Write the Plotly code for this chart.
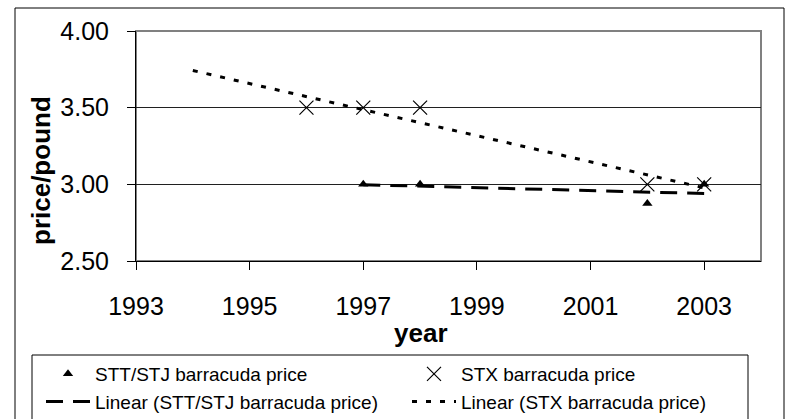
import numpy as np
import plotly.graph_objects as go

# ---- data ----
stt_years = [1997, 1998, 2002, 2003]
stt_price = [3.00, 3.00, 2.875, 3.00]
stx_years = [1996, 1997, 1998, 2002, 2003]
stx_price = [3.50, 3.50, 3.50, 3.00, 3.00]
stx_trend_start = 1994          # trendline backward forecast start
x_ticks = [1993, 1995, 1997, 1999, 2001, 2003]
y_ticks = [2.50, 3.00, 3.50, 4.00]

# ---- linear trendlines (least squares) ----
def trend(xs, ys, x0, x1):
    m, b = np.polyfit(xs, ys, 1)
    tx = [x0, x1]
    return tx, [m * t + b for t in tx]

stt_tx, stt_ty = trend(stt_years, stt_price, min(stt_years), max(stt_years))
stx_tx, stx_ty = trend(stx_years, stx_price, stx_trend_start, max(stx_years))

W, H = 791, 419
L, R, T, B = 136, 761, 31, 261
def px(x):  # pixel -> paper
    return (x - L) / (R - L)
def py(y):
    return (B - y) / (B - T)

FONT = "Liberation Sans, Arial, sans-serif"

fig = go.Figure()
fig.add_trace(go.Scatter(x=stt_years, y=stt_price, mode="markers",
                         name="STT/STJ barracuda price",
                         marker=dict(symbol="triangle-up", size=9, color="black")))
fig.add_trace(go.Scatter(x=stx_years, y=stx_price, mode="markers",
                         name="STX barracuda price",
                         marker=dict(symbol="x-thin-open", size=14, color="black",
                                     line=dict(color="black", width=1.2))))
fig.add_trace(go.Scatter(x=stt_tx, y=stt_ty, mode="lines",
                         name="Linear (STT/STJ barracuda price)",
                         line=dict(color="black", width=3, dash="17px,10px")))
fig.add_trace(go.Scatter(x=stx_tx, y=stx_ty, mode="lines",
                         name="Linear (STX barracuda price)",
                         line=dict(color="black", width=3, dash="5px,9px")))

shapes = [
    # outer chart frame
    dict(type="rect", xref="paper", yref="paper",
         x0=px(15), x1=px(784), y0=py(8), y1=py(440),
         line=dict(color="black", width=1), layer="below"),
    # plot area border
    dict(type="rect", xref="paper", yref="paper",
         x0=0, x1=1, y0=0, y1=1,
         line=dict(color="#808080", width=2), layer="below"),
    # legend box
    dict(type="rect", xref="paper", yref="paper",
         x0=px(32), x1=px(748), y0=py(355), y1=py(440),
         line=dict(color="black", width=1), layer="below"),
]

annotations = [
    dict(text="<b>price/pound</b>", xref="paper", yref="paper",
         x=px(41), y=py(171), showarrow=False, textangle=-90,
         font=dict(family=FONT, size=26, color="black"),
         xanchor="center", yanchor="middle"),
    dict(text="<b>year</b>", xref="paper", yref="paper",
         x=px(421), y=py(333), showarrow=False,
         font=dict(family=FONT, size=26, color="black"),
         xanchor="center", yanchor="middle"),
]

fig.update_layout(
    width=W, height=H,
    margin=dict(l=L, r=W - R, t=T, b=H - B, autoexpand=False),
    paper_bgcolor="white", plot_bgcolor="white",
    font=dict(family=FONT, color="black"),
    showlegend=True,
    legend=dict(orientation="h", x=px(41), xanchor="left",
                y=py(355), yanchor="top",
                font=dict(family=FONT, size=19, color="black"),
                entrywidth=307, entrywidthmode="pixels",
                itemwidth=44, bgcolor="rgba(0,0,0,0)", borderwidth=0,
                tracegroupgap=0),
    xaxis=dict(range=[1993, 2004], tickvals=x_ticks,
               ticktext=[str(v) for v in x_ticks],
               showgrid=False, zeroline=False,
               showline=True, linecolor="black", linewidth=1,
               ticks="outside", ticklen=8, tickcolor="black",
               ticklabelstandoff=15,
               tickfont=dict(family=FONT, size=25, color="black")),
    yaxis=dict(range=[2.5, 4.0], tickvals=y_ticks,
               ticktext=[f"{v:.2f}" for v in y_ticks],
               showgrid=True, gridcolor="#202020", gridwidth=1,
               zeroline=False,
               showline=True, linecolor="black", linewidth=1,
               ticks="outside", ticklen=8, tickcolor="black",
               ticklabelstandoff=13,
               tickfont=dict(family=FONT, size=25, color="black")),
    shapes=shapes,
    annotations=annotations,
)

fig.write_html("out.html",
               config={"displayModeBar": False},
               post_script="document.body.style.margin='0';"
                           "document.body.style.overflow='hidden';")
